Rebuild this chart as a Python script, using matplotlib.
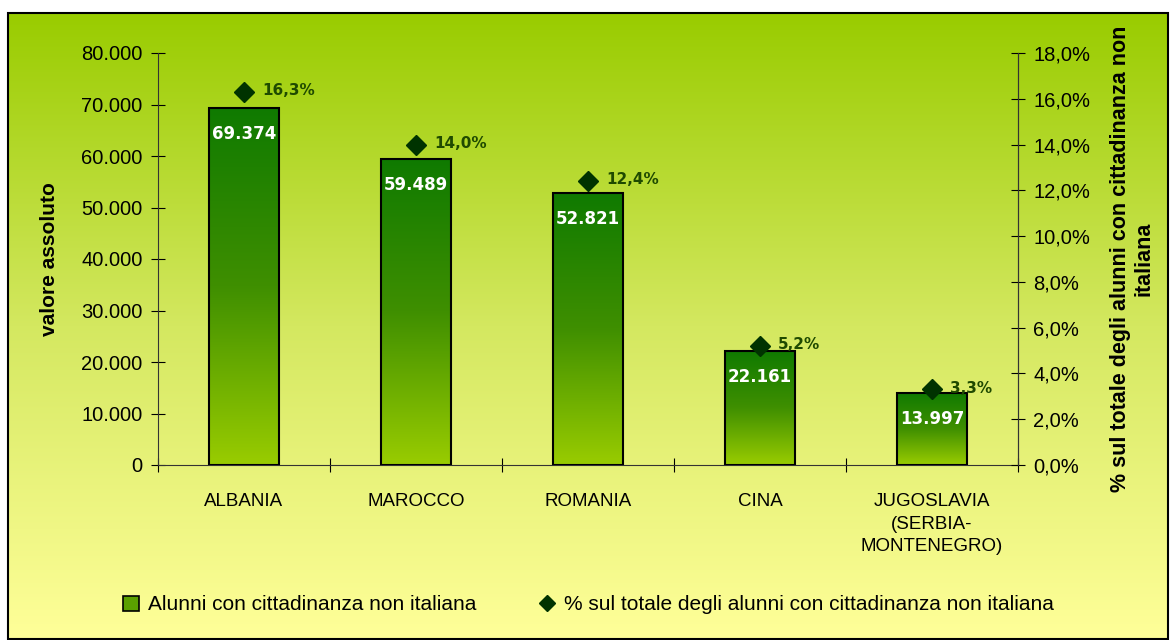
import numpy as np
import matplotlib
matplotlib.use("Agg")
import matplotlib.pyplot as plt
from matplotlib.patches import Rectangle, Patch
from matplotlib.lines import Line2D
from matplotlib.colors import LinearSegmentedColormap

plt.rcParams['font.family'] = ['Liberation Sans', 'DejaVu Sans']

paesi = ["ALBANIA", "MAROCCO", "ROMANIA", "CINA", "JUGOSLAVIA\n(SERBIA-\nMONTENEGRO)"]
alunni = [69374, 59489, 52821, 22161, 13997]
percentuali = [16.3, 14.0, 12.4, 5.2, 3.3]
etichette_alunni = ["69.374", "59.489", "52.821", "22.161", "13.997"]
etichette_perc = ["16,3%", "14,0%", "12,4%", "5,2%", "3,3%"]

W, H = 1176, 640
fig = plt.figure(figsize=(W / 100, H / 100), dpi=100)
fig.patch.set_facecolor("white")

# sfondo sfumato verde -> giallo
bg = fig.add_axes([0, 0, 1, 1])
bg.set_xlim(0, W)
bg.set_ylim(H, 0)
bg.axis("off")
sfondo = LinearSegmentedColormap.from_list("sf", ["#99CC00", "#D4E860", "#FFFF99"])
box = Rectangle((8, 13), 1160, 626, facecolor="none", edgecolor="black", lw=1.5, zorder=3)
bg.add_patch(box)
grad = np.linspace(0, 1, 256).reshape(-1, 1)
im = bg.imshow(grad, cmap=sfondo, extent=[8, 1168, 639, 13], aspect="auto", zorder=1)
im.set_clip_path(box)

ax = fig.add_axes([158 / W, 1 - 465 / H, 860 / W, 412 / H])
ax.patch.set_alpha(0)
x = np.arange(len(paesi))

barre = ax.bar(x, alunni, width=0.41, color="none", edgecolor="black", lw=1.5, zorder=3)
barra_cmap = LinearSegmentedColormap.from_list("b", ["#99CC00", "#3F8F00", "#0F7A00"])
for b in barre:
    x0 = b.get_x()
    h = b.get_height()
    g = ax.imshow(np.linspace(1, 0, 256).reshape(-1, 1), cmap=barra_cmap,
                  extent=[x0, x0 + b.get_width(), 0, h], aspect="auto", zorder=2)
    g.set_clip_path(b)

for xi, v, lab in zip(x, alunni, etichette_alunni):
    ax.annotate(lab, (xi, v), xytext=(0, -19), textcoords="offset points",
                ha="center", va="center", color="white", fontsize=12,
                fontweight="bold", family="DejaVu Sans")

ax.set_xlim(-0.5, 4.5)
ax.set_ylim(0, 80000)
ax.set_yticks(np.arange(0, 80001, 10000))
ax.set_yticklabels(["0"] + [f"{v // 1000}.000" for v in range(10000, 80001, 10000)])
ax.set_xticks(np.arange(-0.5, 5, 1))
ax.set_xticklabels([])
ax.set_xticks(x, minor=True)
ax.set_xticklabels(paesi, minor=True, fontsize=13.5, linespacing=1.45)
ax.tick_params(axis="x", which="minor", length=0, pad=20)
ax.tick_params(axis="x", which="major", direction="inout", length=10)
ax.tick_params(axis="y", direction="inout", length=10, labelsize=14.5, pad=6)
ax.spines["top"].set_visible(False)
for s in ["left", "right", "bottom"]:
    ax.spines[s].set_color("#333333")
ax.set_ylabel("valore assoluto", fontsize=15, fontweight="bold", labelpad=16)

ax2 = ax.twinx()
ax2.set_ylim(0, 18)
ax2.set_yticks(np.arange(0, 18.1, 2))
ax2.set_yticklabels([f"{v:.1f}%".replace(".", ",") for v in np.arange(0, 18.1, 2)])
ax2.tick_params(axis="y", direction="inout", length=10, labelsize=14.5, pad=6)
for s in ["top", "left", "bottom"]:
    ax2.spines[s].set_visible(False)
ax2.spines["right"].set_color("#333333")
ax2.plot(x, percentuali, linestyle="none", marker="D", markersize=10,
         color="#003300", zorder=5)
for xi, p, lab in zip(x, percentuali, etichette_perc):
    ax2.annotate(lab, (xi, p), xytext=(13, 1), textcoords="offset points",
                 ha="left", va="center", color="#1F4A00", fontsize=11,
                 fontweight="bold", family="DejaVu Sans")
ax2.set_ylabel("% sul totale degli alunni con cittadinanza non\nitaliana",
               fontsize=15.5, fontweight="bold", labelpad=14, linespacing=1.2)

handles = [Patch(facecolor="#5AA000", edgecolor="black", lw=1.2),
           Line2D([], [], linestyle="none", marker="D", markersize=8, color="#003300")]
fig.legend(handles, ["Alunni con cittadinanza non italiana",
                     "% sul totale degli alunni con cittadinanza non italiana"],
           loc="center", bbox_to_anchor=(0.5, 1 - 605 / H), ncol=2, frameon=False,
           fontsize=15, handlelength=0.8, handletextpad=0.4, columnspacing=3.0)

fig.savefig("out.png", dpi=100)
